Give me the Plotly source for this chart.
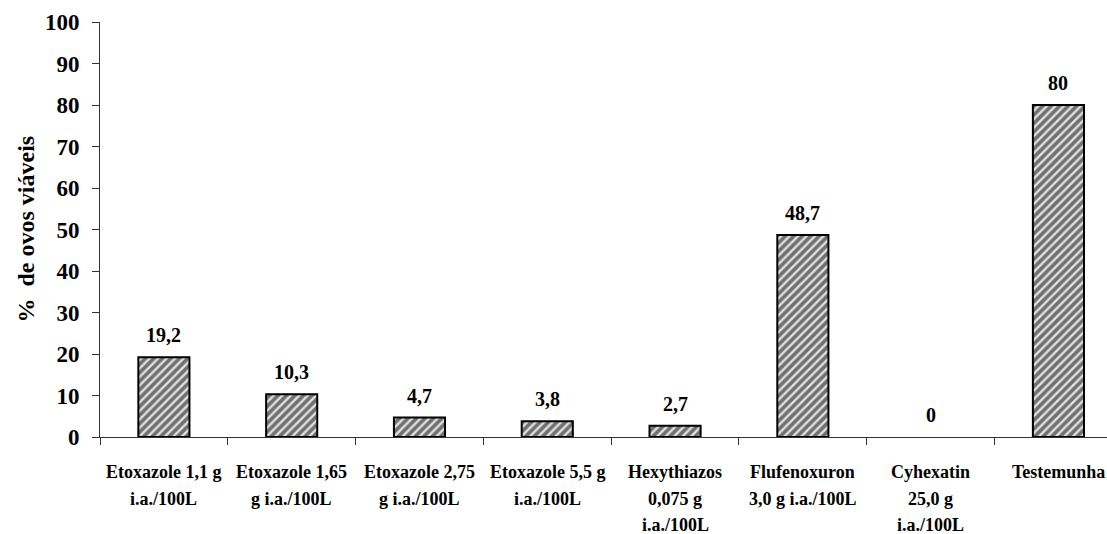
import plotly.graph_objects as go

# Treatments (label lines as printed under each bar)
label_lines = [
    ["Etoxazole 1,1 g", "i.a./100L"],
    ["Etoxazole 1,65", "g i.a./100L"],
    ["Etoxazole 2,75", "g i.a./100L"],
    ["Etoxazole 5,5 g", "i.a./100L"],
    ["Hexythiazos", "0,075 g", "i.a./100L"],
    ["Flufenoxuron", "3,0 g i.a./100L"],
    ["Cyhexatin", "25,0 g", "i.a./100L"],
    ["Testemunha"],
]
categories = [" ".join(lines) for lines in label_lines]

# % of viable eggs per treatment
viable_pct = [19.2, 10.3, 4.7, 3.8, 2.7, 48.7, 0, 80]

y_ticks = list(range(0, 101, 10))

FONT = "Liberation Serif"

fig = go.Figure()
fig.add_trace(go.Bar(
    x=categories,
    y=viable_pct,
    width=0.4,
    marker=dict(
        color="white",
        # no outline on an empty (zero-height) bar
        line=dict(color="black", width=[2 if v > 0 else 0 for v in viable_pct]),
        pattern=dict(shape="/", fgcolor="#000000", bgcolor="#e2e2e2",
                     size=6, solidity=0.62),
    ),
    hoverinfo="skip",
))

annotations = []
# value labels above each bar
for cat, v in zip(categories, viable_pct):
    annotations.append(dict(
        x=cat, y=v, xref="x", yref="y",
        text=f"<b>{v:g}</b>".replace(".", ","),
        showarrow=False, yanchor="middle", yshift=22,
        font=dict(family=FONT, size=20, color="black"),
    ))

# category labels, one annotation per line
line_offsets = [-35, -62, -88]
for cat, lines in zip(categories, label_lines):
    for i, line in enumerate(lines):
        annotations.append(dict(
            x=cat, y=0, xref="x", yref="paper",
            text=f"<b>{line}</b>", showarrow=False, yanchor="middle",
            yshift=line_offsets[i],
            font=dict(family=FONT, size=18, color="black"),
        ))

# y-axis title
annotations.append(dict(
    x=0, y=0.5, xref="paper", yref="paper", xshift=-75,
    text="<b>%\u00a0 de ovos viáveis</b>", textangle=-90, showarrow=False,
    xanchor="center", yanchor="middle",
    font=dict(family=FONT, size=24, color="black"),
))

fig.update_layout(
    width=1107, height=534,
    margin=dict(l=100, r=0, t=22, b=97, pad=0),
    paper_bgcolor="white", plot_bgcolor="white",
    showlegend=False,
    annotations=annotations,
    xaxis=dict(
        type="category",
        range=[-0.5, 7.38],
        showticklabels=False,
        tickson="boundaries",
        ticks="outside", ticklen=7, tickcolor="#333", tickwidth=1,
        showline=True, linecolor="#333", linewidth=1,
        showgrid=False, zeroline=False,
    ),
    yaxis=dict(
        range=[0, 100],
        tickvals=y_ticks,
        ticktext=[f"<b>{t}</b>" for t in y_ticks],
        ticks="outside", ticklen=7, tickcolor="#333", tickwidth=1,
        ticklabelstandoff=8,
        showline=True, linecolor="#333", linewidth=1,
        showgrid=False, zeroline=False,
        tickfont=dict(family=FONT, size=23, color="black"),
    ),
)

fig.write_html("out.html")
